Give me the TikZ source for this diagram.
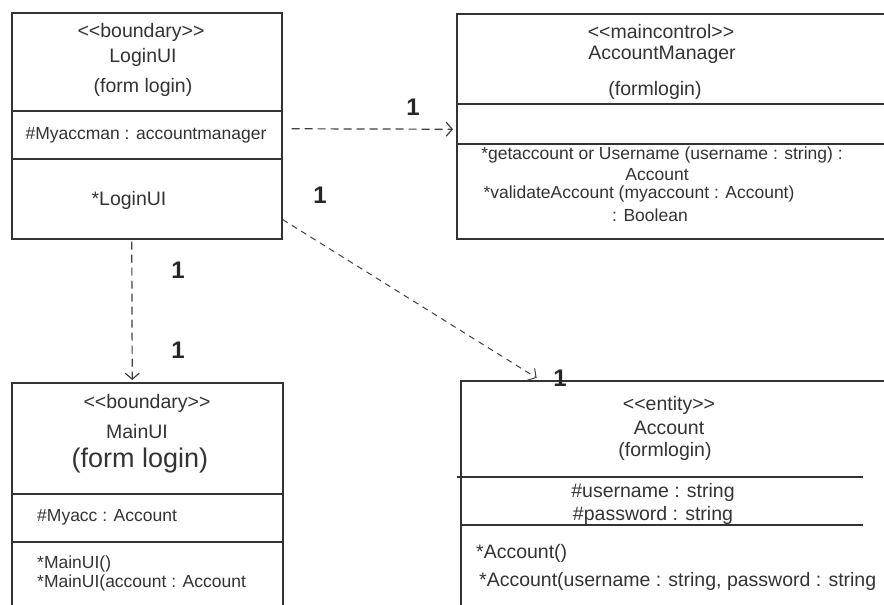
\documentclass[tikz,border=0pt]{standalone}
\usepackage{fontspec}
\setmainfont{Liberation Sans}
\usetikzlibrary{arrows.meta}

\newcommand{\stereo}[1]{<\kern0pt<#1>\kern0pt>}

\begin{document}
\begin{tikzpicture}[x=1pt,y=-1pt]
        % styles
        \tikzstyle{classbox}=[draw=black!80, line width=1.5pt, rectangle, anchor=north west, inner sep=0pt]
        \tikzstyle{txt}=[text=black!80, inner sep=0pt, font=\fontsize{17.5}{20}\selectfont]
        \tikzstyle{head}=[txt, font=\fontsize{19.5}{22}\selectfont]
        \tikzstyle{big}=[txt, font=\fontsize{27}{30}\selectfont]
        \tikzstyle{mult}=[text=black!85, inner sep=0pt, font=\fontsize{24}{26}\selectfont\bfseries]
        \tikzstyle{sep}=[draw=black!80, line width=1.5pt]
        \tikzstyle{dep}=[dash pattern=on 8pt off 5pt, line width=1.2pt, draw=black!75, -{Straight Barb[length=6pt,width=14pt]}]

        \fill[white] (0,0) rectangle (884,605);
        \useasboundingbox (0,0) rectangle (884,605);
        \clip (0,0) rectangle (884,605);

        % classes
        \node[classbox, minimum width=270pt, minimum height=226pt] (loginui) at (11,12) {};
        \node[classbox, minimum width=460pt, minimum height=225pt] (accmgr) at (456,13) {};
        \node[classbox, minimum width=271pt, minimum height=250pt] (mainui) at (11,382) {};
        \node[classbox, minimum width=460pt, minimum height=250pt] (account) at (460,380) {};

        % compartments
        \draw[sep] (loginui.west |- 0,111) -- (loginui.east |- 0,111);
        \draw[sep] (loginui.west |- 0,159) -- (loginui.east |- 0,159);
        \draw[sep] (accmgr.west |- 0,104) -- (884,104);
        \draw[sep] (accmgr.west |- 0,144) -- (884,144);
        \draw[sep] (mainui.west |- 0,494) -- (mainui.east |- 0,494);
        \draw[sep] (mainui.west |- 0,542) -- (mainui.east |- 0,542);
        \draw[sep, line width=1.2pt] (457,477) -- (863,477);
        \draw[sep, line width=1.2pt] (460,525) -- (863,525);

        % LoginUI
        \node[head] (loginSt) at (141,32) {\stereo{boundary}};
        \node[head] (loginNm) at (143,57) {LoginUI};
        \node[head] (loginFm) at (143,87) {(form login)};
        \node[txt] (loginAt) at (146,135) {\#Myaccman : accountmanager};
        \node[head] (loginOp) at (129,200) {*LoginUI};

        % AccountManager
        \node[head] (mgrSt) at (661,32) {\stereo{maincontrol}};
        \node[head] (mgrNm) at (662,55) {AccountManager};
        \node[head] (mgrFm) at (655,90) {(formlogin)};
        \node[txt] (mgrOpA) at (662,155) {*getaccount or Username (username : string) :};
        \node[txt] (mgrOpB) at (657,175) {Account};
        \node[txt] (mgrOpC) at (639,194) {*validateAccount (myaccount : Account)};
        \node[txt] (mgrOpD) at (650,215) {: Boolean};

        % MainUI
        \node[head] (mainSt) at (147,403) {\stereo{boundary}};
        \node[head] (mainNm) at (137,432) {MainUI};
        \node[big] (mainFm) at (140,461) {(form login)};
        \node[txt, anchor=west] (mainAt) at (37,517) {\#Myacc : Account};
        \node[txt, anchor=west] (mainOpA) at (37,564) {*MainUI()};
        \node[txt, anchor=west] (mainOpB) at (37,583) {*MainUI(account : Account};

        % Account
        \node[head] (accSt) at (669,405) {\stereo{entity}};
        \node[head] (accNm) at (669,428) {Account};
        \node[head] (accFm) at (665,451) {(formlogin)};
        \node[head] (accAtA) at (653,492) {\#username : string};
        \node[head] (accAtB) at (653,515) {\#password : string};
        \node[head, anchor=west] (accOpA) at (476,553) {*Account()};
        \node[head, anchor=west] (accOpB) at (479,581) {*Account(username : string, password : string};

        % dependencies
        \draw[dep, shorten <=9pt, shorten >=3pt] ([yshift=-3pt]loginui.east) -- ([yshift=-3pt]accmgr.west);
        \draw[dep, shorten <=2pt, shorten >=2pt] ([xshift=-15pt]loginui.south) -- ([xshift=-15pt]mainui.north);
        \draw[dep, dash pattern=on 6pt off 5pt, line width=1pt, shorten >=4pt] ([yshift=20pt]loginui.south east) -- ([xshift=80pt]account.north west);

        % multiplicities
        \node[mult] (mMgr) at (413,107) {1};
        \node[mult] (mLogA) at (320,195) {1};
        \node[mult] (mLogB) at (178,270) {1};
        \node[mult] (mMain) at (178,350) {1};
        \node[mult] (mAcc) at (560,378) {1};
    \end{tikzpicture}
\end{document}
